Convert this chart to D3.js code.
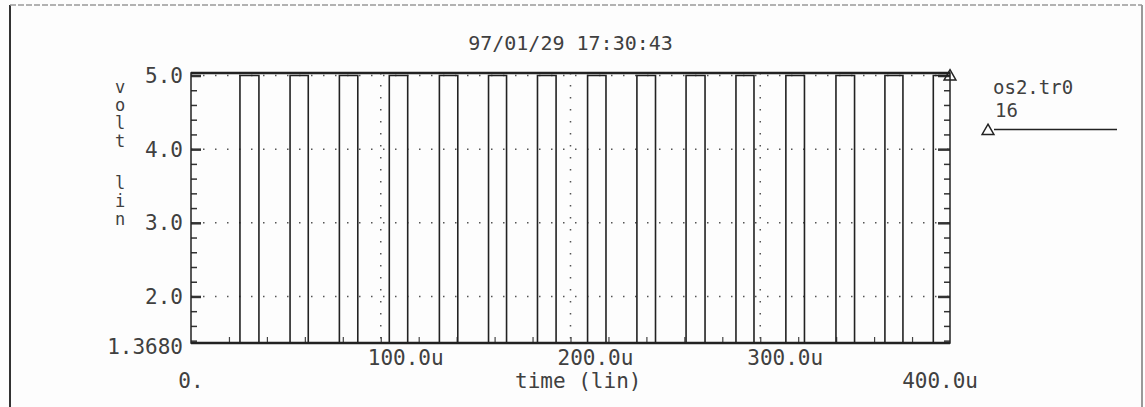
<!DOCTYPE html>
<html>
<head>
<meta charset="utf-8">
<script src="https://cdn.jsdelivr.net/npm/d3@7"></script>
<style>
  body { margin: 0; background: #fdfdfd; }
  text { font-family: "DejaVu Sans Mono", monospace; fill: #404040; }
</style>
</head>
<body>
<div id="chart"></div>
<script>
// Data (time in microseconds, voltage in volts)
const riseTimes = [25.8, 52.2, 78.2, 104.5, 130.9, 156.8, 182.6, 209.0, 235.0, 260.9, 287.2, 313.5, 339.9, 365.7, 391.2];
const fallTimes = [35.8, 61.8, 87.9, 114.2, 140.6, 166.3, 192.4, 218.7, 244.8, 270.9, 296.7, 323.3, 349.7, 375.2];
const lowLevel = 1.368;
const highLevel = 5.0;
const xTicks = [0, 100, 200, 300, 400];
const xTickLabels = ['0.', '100.0u', '200.0u', '300.0u', '400.0u'];
const yTicks = [1.368, 2, 3, 4, 5];
const yTickLabels = ['1.3680', '2.0', '3.0', '4.0', '5.0'];
const title = '97/01/29 17:30:43';
const yLabelChars = ['v', 'o', 'l', 't', '', 'l', 'i', 'n'];
const legendLines = ['os2.tr0', '16'];

const W = 1145, H = 407;
const margin = { top: 73, right: 195, bottom: 64, left: 191 };
const width = W - margin.left - margin.right;
const height = H - margin.top - margin.bottom;

const svg = d3.select('#chart').append('svg')
  .attr('width', W)
  .attr('height', H);

// page border
svg.append('line').attr('x1', 10).attr('x2', 10).attr('y1', 5).attr('y2', H)
  .attr('stroke', '#333').attr('stroke-width', 2);
svg.append('line').attr('x1', 1142).attr('x2', 1142).attr('y1', 5).attr('y2', H)
  .attr('stroke', '#777').attr('stroke-width', 1.5);
svg.append('line').attr('x1', 10).attr('x2', 1142).attr('y1', 5).attr('y2', 5)
  .attr('stroke', '#999').attr('stroke-width', 1.5).attr('stroke-dasharray', '6,2');

const g = svg.append('g')
  .attr('transform', `translate(${margin.left},${margin.top})`);

const x = d3.scaleLinear().domain([0, 400]).range([0, width]);
const y = d3.scaleLinear().domain([lowLevel, 5.034]).range([height, 0]);

// dotted grid
g.selectAll('.hgrid')
  .data([2, 3, 4, 5])
  .enter().append('line')
  .attr('x1', 0).attr('x2', width)
  .attr('y1', d => y(d)).attr('y2', d => y(d))
  .attr('stroke', '#555').attr('stroke-width', 1.5)
  .attr('stroke-dasharray', '1.5,10.5');
g.selectAll('.vgrid')
  .data([100, 200, 300])
  .enter().append('line')
  .attr('y1', 0).attr('y2', height)
  .attr('x1', d => x(d)).attr('x2', d => x(d))
  .attr('stroke', '#555').attr('stroke-width', 1.5)
  .attr('stroke-dasharray', '1.5,10.5');

// left axis with inward ticks
const yMinor = d3.range(14, 51, 2).map(v => v / 10);
const isMajor = d => Math.abs(d - Math.round(d)) < 1e-6;
const leftAxis = g.append('g')
  .call(d3.axisRight(y).tickValues(yMinor).tickSize(6).tickFormat(''));
leftAxis.selectAll('.tick line').attr('stroke', '#333')
  .attr('stroke-width', d => isMajor(d) ? 2.5 : 1.5)
  .attr('x2', d => isMajor(d) ? 10 : 6);
leftAxis.select('.domain').remove();

const rightAxis = g.append('g')
  .attr('transform', `translate(${width},0)`)
  .call(d3.axisLeft(y).tickValues(yMinor).tickSize(6).tickFormat(''));
rightAxis.selectAll('.tick line').attr('stroke', '#333')
  .attr('stroke-width', d => isMajor(d) ? 2.5 : 1.5)
  .attr('x2', d => isMajor(d) ? -12 : -6);
rightAxis.select('.domain').remove();

// bottom axis minor ticks pointing up
const bottomAxis = g.append('g')
  .attr('transform', `translate(0,${height})`)
  .call(d3.axisTop(x).tickValues(d3.range(20, 400, 20)).tickSize(6).tickFormat(''));
bottomAxis.selectAll('.tick line').attr('stroke', '#444').attr('stroke-width', 1.2);
bottomAxis.select('.domain').remove();

// frame
g.append('rect')
  .attr('width', width).attr('height', height)
  .attr('fill', 'none').attr('stroke', '#222').attr('stroke-width', 1.5);
g.append('line').attr('x1', 0).attr('x2', width).attr('y1', 0).attr('y2', 0)
  .attr('stroke', '#222').attr('stroke-width', 2.5);

// waveform built from edge times
const wave = [{ t: 0, v: lowLevel }];
riseTimes.forEach((r, i) => {
  wave.push({ t: r, v: lowLevel }, { t: r, v: highLevel });
  if (i < fallTimes.length) {
    wave.push({ t: fallTimes[i], v: highLevel }, { t: fallTimes[i], v: lowLevel });
  }
});
wave.push({ t: 400, v: highLevel });

const line = d3.line()
  .x(d => x(d.t))
  .y(d => y(d.v));

g.append('path')
  .datum(wave)
  .attr('d', line)
  .attr('fill', 'none')
  .attr('stroke', '#222')
  .attr('stroke-width', 1.6);

// thicker low rail along the bottom
g.append('line').attr('x1', 0).attr('x2', width)
  .attr('y1', y(lowLevel)).attr('y2', y(lowLevel))
  .attr('stroke', '#222').attr('stroke-width', 2.5);

// trace end marker
const tri = d3.symbol().type(d3.symbolTriangle).size(60);
g.append('path')
  .attr('d', tri())
  .attr('transform', `translate(${x(400)},${y(highLevel) + 1})`)
  .attr('fill', 'none').attr('stroke', '#222').attr('stroke-width', 1.5);

// tick labels
const fs = 21;
g.selectAll('.ylab')
  .data(yTicks)
  .enter().append('text')
  .attr('x', -8)
  .attr('y', d => y(d))
  .attr('dy', (d, i) => i === 0 ? '0.5em' : '0.36em')
  .attr('text-anchor', 'end')
  .style('font-size', fs + 'px')
  .text((d, i) => yTickLabels[i]);

g.selectAll('.xlab')
  .data(xTicks)
  .enter().append('text')
  .attr('x', (d, i) => i === 0 ? x(d) : i === 4 ? x(d) + 28 : x(d) - 13)
  .attr('y', (d, i) => (i === 0 || i === 4) ? height + 45 : height + 22)
  .attr('text-anchor', (d, i) => i === 0 ? 'middle' : i === 4 ? 'end' : 'start')
  .style('font-size', fs + 'px')
  .text((d, i) => xTickLabels[i]);

g.append('text')
  .attr('x', 515 - margin.left)
  .attr('y', height + 45)
  .style('font-size', fs + 'px')
  .text('time (lin)');

// title
g.append('text')
  .attr('x', width / 2)
  .attr('y', -23)
  .attr('text-anchor', 'middle')
  .style('font-size', '20px')
  .text(title);

// vertical y label, one character per row (blank row is a bit taller)
svg.selectAll('.ychar')
  .data(yLabelChars)
  .enter().append('text')
  .attr('x', 120)
  .attr('y', (d, i) => 93 + i * 18 + (i > 4 ? 6 : 0))
  .attr('text-anchor', 'middle')
  .style('font-size', '17px')
  .text(d => d);

// legend
svg.selectAll('.leg')
  .data(legendLines)
  .enter().append('text')
  .attr('x', (d, i) => i === 0 ? 993 : 995)
  .attr('y', (d, i) => 94 + i * 23)
  .style('font-size', '19px')
  .text(d => d);
svg.append('line').attr('x1', 994).attr('x2', 1117).attr('y1', 129.5).attr('y2', 129.5)
  .attr('stroke', '#222').attr('stroke-width', 1.5);
svg.append('path')
  .attr('d', tri())
  .attr('transform', 'translate(988,131)')
  .attr('fill', 'none').attr('stroke', '#222').attr('stroke-width', 1.5);
</script>
</body>
</html>
